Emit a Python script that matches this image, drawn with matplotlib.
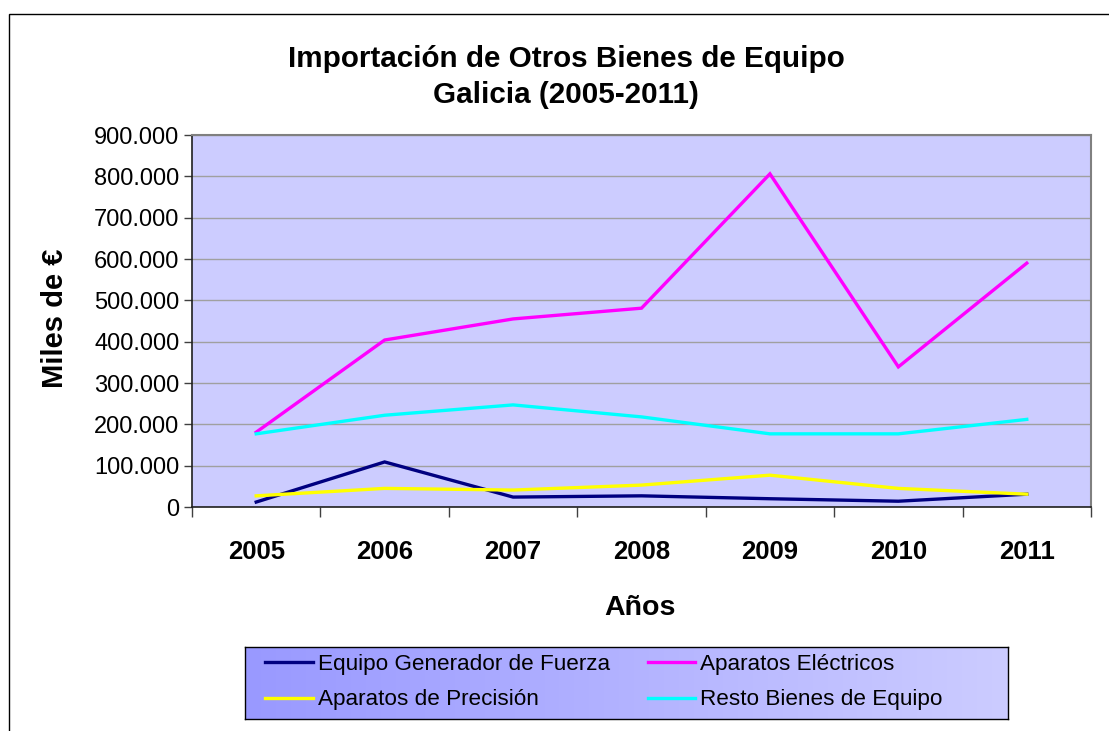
import numpy as np
import matplotlib
matplotlib.use("Agg")
import matplotlib.pyplot as plt
import matplotlib.ticker as ticker
from matplotlib.patches import Rectangle

plt.rcParams["font.family"] = ["Liberation Sans", "DejaVu Sans"]

# | ================= Data ================= |

YEARS = ["2005", "2006", "2007", "2008", "2009", "2010", "2011"]

equipo_generador = [12000, 109000, 24000, 27000, 20000, 14000, 31000]
aparatos_electricos = [181000, 404000, 455000, 481000, 806000, 339000, 590000]
aparatos_precision = [27000, 45000, 41000, 53000, 77000, 45000, 31000]
resto_bienes = [177000, 222000, 247000, 218000, 177000, 177000, 212000]

SERIES_NAMES = ["Equipo Generador de Fuerza", "Aparatos Eléctricos",
                "Aparatos de Precisión", "Resto Bienes de Equipo"]

# | ================= Style ================= |

W, H = 1109, 731
DPI = 100
PLOT_BG = "#ccccff"
GRID_C = "#a0a0a0"
COLORS = ["#000080", "#ff00ff", "#ffff00", "#00ffff"]
LW = 2.4


def fx(px):
    return px / W


def fy(py):
    return 1 - py / H


fig = plt.figure(figsize=(W / DPI, H / DPI), dpi=DPI)
fig.patch.set_facecolor("white")

# outer chart border (only top/left visible in the reference)
fig.patches.append(Rectangle((fx(9), fy(760)), fx(1200), fy(14) - fy(760),
                             transform=fig.transFigure, fill=False,
                             edgecolor="black", linewidth=1.0))

# plot area
L, R, T, B = 192, 1091, 135, 507
ax = fig.add_axes([fx(L), fy(B), fx(R - L), fy(T) - fy(B)])
ax.set_facecolor(PLOT_BG)

x = np.arange(len(YEARS))
all_series = [equipo_generador, aparatos_electricos, aparatos_precision, resto_bienes]
handles = []
for i, (vals, name, col) in enumerate(zip(all_series, SERIES_NAMES, COLORS)):
    ln, = ax.plot(x, vals, color=col, linewidth=LW, label=name,
                  solid_joinstyle="miter", zorder=3 + i)
    handles.append(ln)

ax.set_xlim(-0.5, len(YEARS) - 0.5)
ax.set_ylim(0, 900000)
ax.yaxis.set_major_locator(ticker.MultipleLocator(100000))
ax.yaxis.set_major_formatter(ticker.FuncFormatter(
    lambda v, p: "0" if v == 0 else f"{int(v):,}".replace(",", ".")))
ax.yaxis.grid(True, color=GRID_C, linewidth=1.0)
ax.set_axisbelow(True)

ax.set_xticks(x)
ax.set_xticklabels(YEARS, fontsize=18.5, fontweight="bold")
ax.set_xticks(np.arange(-0.5, len(YEARS)), minor=True)
ax.tick_params(axis="x", which="major", length=0, pad=24)
ax.tick_params(axis="x", which="minor", length=7, width=1.0, color="#404040")
ax.tick_params(axis="y", which="major", length=6, width=1.0, pad=3,
               labelsize=17, color="#404040")

for s in ["left", "bottom"]:
    ax.spines[s].set_color("#202020")
    ax.spines[s].set_linewidth(1.2)
for s in ["top", "right"]:
    ax.spines[s].set_color("#808080")
    ax.spines[s].set_linewidth(1.5)

ax.set_xlabel("Años", fontsize=20.5, fontweight="bold")
ax.xaxis.set_label_coords((640 - L) / (R - L), (B - 608) / (B - T))
ax.xaxis.label.set_verticalalignment("center")
ax.set_ylabel("Miles de €", fontsize=21, fontweight="bold")
ax.yaxis.set_label_coords((55 - L) / (R - L), (B - 318) / (B - T))
ax.yaxis.label.set_verticalalignment("center")

fig.text(fx(566), fy(77), "Importación de Otros Bienes de Equipo\nGalicia (2005-2011)",
         ha="center", va="center", fontsize=21.3, fontweight="bold",
         linespacing=1.35)

# | ================= Legend ================= |

LG_L, LG_R, LG_T, LG_B = 245, 1008, 647, 719
lax = fig.add_axes([fx(LG_L), fy(LG_B), fx(LG_R - LG_L), fy(LG_T) - fy(LG_B)])
grad = np.linspace(0, 1, 256).reshape(1, -1)
c0 = np.array([0x99, 0x99, 0xff]) / 255
c1 = np.array([0xcc, 0xcc, 0xff]) / 255
img = c0[None, None, :] + (c1 - c0)[None, None, :] * grad[..., None]
lax.imshow(img, aspect="auto", extent=[0, 1, 0, 1])
lax.set_xticks([]); lax.set_yticks([])
for s in lax.spines.values():
    s.set_color("black"); s.set_linewidth(1.0)

order = [0, 2, 1, 3]
fig.legend([handles[i] for i in order], [SERIES_NAMES[i] for i in order],
           ncol=2, loc="center", bbox_to_anchor=(fx(604), fy(682)),
           frameon=False, fontsize=16.2, handlelength=2.1, handletextpad=0.22,
           columnspacing=1.7, labelspacing=0.66, borderpad=0, borderaxespad=0)

fig.savefig("out.png", dpi=DPI, facecolor="white")
